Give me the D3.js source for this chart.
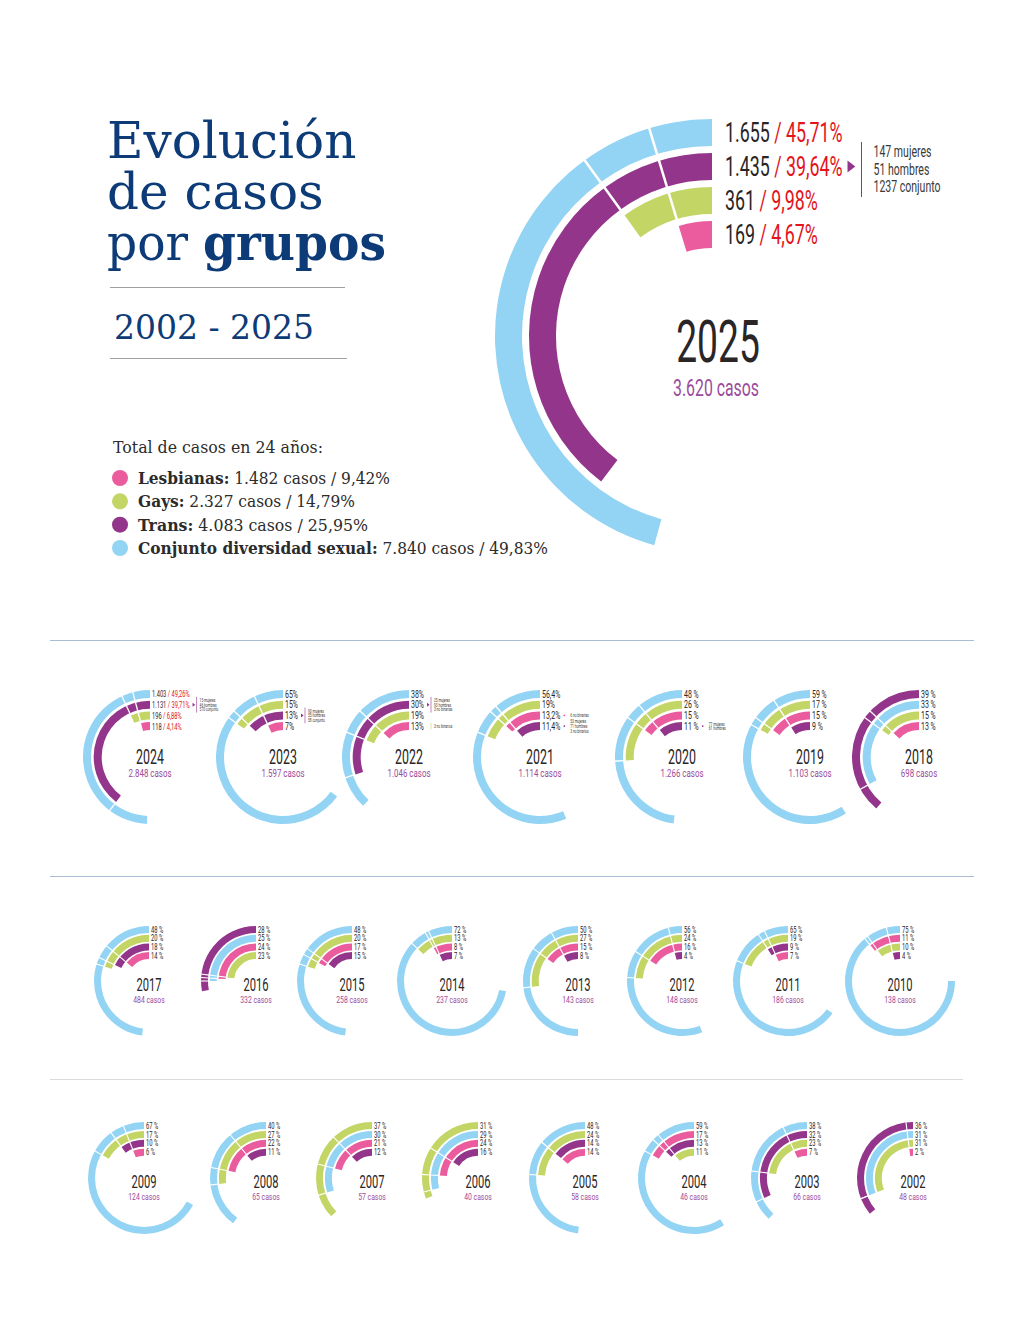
<!DOCTYPE html>
<html><head><meta charset="utf-8">
<script src="https://cdn.jsdelivr.net/npm/d3@7"></script>
<style>body{margin:0;background:#fff}</style>
</head><body><div id="chart"></div>
<script>
// ---------------- DATA ----------------
const years      = [2025,2024,2023,2022,2021,2020,2019,2018,2017,2016,2015,2014,2013,2012,2011,2010,2009,2008,2007,2006,2005,2004,2003,2002];
const totalCases = [3620,2848,1597,1046,1114,1266,1103,698,484,332,258,237,143,148,186,138,124,65,57,40,58,46,66,48];
const lesbianasPct = [4.67,4.14,7,13,13.2,15,15,13,14,24,17,8,15,16,7,11,6,22,21,24,14,17,7,2];
const gaysPct      = [9.98,6.88,15,19,19,26,17,15,20,23,20,13,27,24,19,10,17,27,37,31,24,11,23,31];
const transPct     = [39.64,39.71,13,30,11.4,11,9,39,18,28,15,7,8,4,9,4,10,11,12,16,14,13,32,36];
const conjuntoPct  = [45.71,49.26,65,38,56.4,48,59,33,48,25,48,72,50,56,65,75,67,40,30,29,48,59,38,31];
// absolute counts shown for 2025 and 2024
const lesbianasN = [169,118];
const gaysN      = [361,196];
const transN     = [1435,1131];
const conjuntoN  = [1655,1403];

const categories     = ["Lesbianas","Gays","Trans","Conjunto diversidad sexual"];
const categoryTotals = [1482,2327,4083,7840];
const categoryPct    = [9.42,14.79,25.95,49.83];

const notes = [
  {year:2025, cat:2, mark:"tri", lines:["147 mujeres","51 hombres","1237 conjunto"]},
  {year:2024, cat:2, mark:"tri", lines:["15 mujeres","46 hombres","570 conjunto"]},
  {year:2023, cat:2, mark:"tri", lines:["90 mujeres","55 hombres","58 conjunto"]},
  {year:2022, cat:2, mark:"tri", lines:["25 mujeres","93 hombres","3 no binarias"]},
  {year:2022, cat:0, mark:"bar", markCat:1, lines:["3 no binarios"]},
  {year:2021, cat:0, mark:"dot", lines:["6 no binarias"]},
  {year:2021, cat:2, mark:"dot", lines:["53 mujeres","71 hombres","3 no binarios"]},
  {year:2020, cat:2, mark:"dot", lines:["77 mujeres","61 hombres"]}
];

// ---------------- STYLE / LAYOUT ----------------
const colors = ["#ea5c9e","#c2d565","#93368b","#93d4f4"];
const RED = "#e3141b", DARK = "#2a2526", CASOS = "#9b4c9c", NAVY = "#0d3b77";
const prio = [3,2,1,0]; // tie-break: conjunto, trans, gays, lesbianas
const pctArrays = [lesbianasPct, gaysPct, transPct, conjuntoPct];
const nArrays = [lesbianasN, gaysN, transN, conjuntoN];
const locale = d3.formatLocale({decimal:",", thousands:".", grouping:[3], currency:["","€"]});
const fmtN = locale.format(",");

const rows = [
  {years:[2024,2023,2022,2021,2020,2019,2018], cx:[150,283,409,540,682,810,919], cy:757, R:67, t:8, pitch:10.7, lab:10, labSX:0.7, yr:20, yrDy:7, cs:11, csDy:19.5, sep:1.3},
  {years:[2017,2016,2015,2014,2013,2012,2011,2010], cx:[149,256,352,452,578,682,788,900], cy:981, R:55, t:7, pitch:8.7, lab:8.8, labSX:0.66, yr:18, yrDy:10, cs:9.5, csDy:21.5, sep:1.1},
  {years:[2009,2008,2007,2006,2005,2004,2003,2002], cx:[144,266,372,478,585,694,807,913], cy:1178, R:56, t:7, pitch:8.9, lab:8.8, labSX:0.66, yr:18, yrDy:10, cs:9.5, csDy:21.5, sep:1.1}
];

const W = 1024, H = 1325;
const svg = d3.select("#chart").append("svg").attr("width",W).attr("height",H)
  .style("font-family","Roboto, sans-serif");

function ctext(g, x, y, size, anchor, sx){
  return g.append("text").attr("transform",`translate(${x},${y}) scale(${sx||0.62},1)`)
    .attr("font-size",size).attr("text-anchor",anchor||"start").attr("fill",DARK);
}

function fmtLabel(yi, k){
  const y = years[yi], v = pctArrays[k][yi];
  if (y >= 2024) return {n: fmtN(nArrays[k][yi]), p: d3.format(".2f")(v).replace(".",",") + "%"};
  if (y >= 2021) return {p: String(v).replace(".",",") + "%"};
  return {p: v + " %"};
}

function drawChart(cx, cy, yi, cfg){
  const g = svg.append("g").attr("transform",`translate(${cx},${cy})`);
  const angle = d3.scaleLinear().domain([0,100]).range([0,-2*Math.PI]);
  const items = [0,1,2,3].map(k=>({k, pct:pctArrays[k][yi]}))
    .sort((a,b)=> (b.pct - a.pct) || (prio[a.k]-prio[b.k]));
  items.forEach((d,i)=>{ d.ro = cfg.R - i*cfg.pitch; d.ri = d.ro - cfg.t; d.end = angle(d.pct); d.i = i; });
  const arc = d3.arc();
  g.selectAll("path.ring").data(items).join("path").attr("class","ring")
    .attr("d", d=>arc({innerRadius:d.ri, outerRadius:d.ro, startAngle:0, endAngle:d.end}))
    .attr("fill", d=>colors[d.k]);
  // separators where inner rings end
  items.forEach((d,i)=>{
    items.slice(i+1).forEach(e=>{
      if (Math.abs(e.end) < Math.abs(d.end) - 0.03 && (!cfg.sepMax || e.pct <= cfg.sepMax)){
        const a = e.end;
        g.append("line")
          .attr("x1",(d.ri-1)*Math.sin(a)).attr("y1",-(d.ri-1)*Math.cos(a))
          .attr("x2",(d.ro+1)*Math.sin(a)).attr("y2",-(d.ro+1)*Math.cos(a))
          .attr("stroke","#fff").attr("stroke-width",cfg.sep);
      }
    });
  });
  // labels
  const labX = cfg.labX;
  const big = cfg.big;
  const isCount = years[yi] >= 2024;
  const lsize = (!big && isCount) ? 9.5 : cfg.lab;
  const lsx = (!big && isCount) ? 0.6 : cfg.labSX;
  items.forEach(d=>{
    const mid = -(d.ro - cfg.t/2);
    const L = fmtLabel(yi, d.k);
    const t = ctext(g, labX, mid + lsize*0.36, lsize, "start", lsx);
    if (L.n){ t.append("tspan").text(L.n + " "); t.append("tspan").attr("fill",RED).text("/ " + L.p); }
    else t.text(L.p);
    d.labEnd = labX + t.node().getComputedTextLength()*lsx;
    d.mid = mid;
  });
  // notes
  notes.filter(n=>n.year===years[yi]).forEach(n=>{
    const d = items.find(e=>e.k===n.cat);
    const ns = big ? 17 : 5.2, lh = big ? 17.5 : 4.6;
    const mx = d.labEnd + (big ? 5 : 3);
    const mcol = colors[n.markCat!==undefined ? n.markCat : n.cat];
    if (n.mark==="tri"){
      const s = big ? 6 : 2;
      g.append("path").attr("d",`M${mx},${d.mid-s}L${mx+s*1.3},${d.mid}L${mx},${d.mid+s}Z`).attr("fill",mcol);
    } else if (n.mark==="dot"){
      g.append("circle").attr("cx",mx+1).attr("cy",d.mid).attr("r",big?3:0.9).attr("fill",mcol);
    }
    const lx = mx + (big ? 14 : 4);
    const nl = n.lines.length;
    if (n.mark!=="dot" && (nl>1 || n.mark==="bar")){
      const h = big ? 55 : Math.max(nl*lh+2, 5);
      g.append("line").attr("x1",lx).attr("x2",lx)
        .attr("y1",d.mid - h/2 + (big?3:0)).attr("y2",d.mid + h/2 + (big?3:0))
        .attr("stroke", n.mark==="bar" ? mcol : colors[2]).attr("stroke-width", big?1:0.6);
    }
    n.lines.forEach((s,i)=>{
      ctext(g, lx + (big ? 12 : 3), d.mid + (i-(nl-1)/2)*lh + ns*0.36 + (big?2:0), ns).attr("fill","#3a3a3a").text(s);
    });
  });
  // year and cases
  ctext(g, cfg.yrX||0, cfg.yrDy, cfg.yr, "middle").text(years[yi]);
  ctext(g, cfg.csX||0, cfg.csDy, cfg.cs, "middle", cfg.csSX||0.72).attr("fill",CASOS).text(fmtN(totalCases[yi]) + " casos");
}

// ---------------- TITLE ----------------
const serif = "'DejaVu Serif', serif";
const tg = svg.append("g").attr("font-family",serif).attr("fill",NAVY);
tg.append("text").attr("x",107).attr("y",158).attr("font-size",50).text("Evolución");
tg.append("text").attr("x",107).attr("y",209).attr("font-size",50).text("de casos");
const t3 = tg.append("text").attr("x",107).attr("y",260).attr("font-size",50)
  .attr("textLength",279).attr("lengthAdjust","spacingAndGlyphs");
t3.append("tspan").text("por ");
t3.append("tspan").attr("font-weight","bold").text("grupos");
tg.append("line").attr("x1",110).attr("x2",345).attr("y1",287.5).attr("y2",287.5).attr("stroke","#a0a0a0");
tg.append("text").attr("x",114).attr("y",339).attr("font-size",33).text("2002 - 2025");
tg.append("line").attr("x1",110).attr("x2",347).attr("y1",358.5).attr("y2",358.5).attr("stroke","#a0a0a0");

// ---------------- LEGEND ----------------
const lg = svg.append("g").attr("font-family",serif).attr("fill","#2b2b2b");
lg.append("text").attr("x",113).attr("y",453).attr("font-size",16)
  .attr("textLength",210).attr("lengthAdjust","spacingAndGlyphs").text("Total de casos en 24 años:");
const legY = d3.scalePoint().domain(categories).range([478,548]);
const legLen = [252,217,230,410];
categories.forEach((c,k)=>{
  lg.append("circle").attr("cx",120).attr("cy",legY(c)).attr("r",8).attr("fill",colors[k]);
  const t = lg.append("text").attr("x",138).attr("y",legY(c)+6).attr("font-size",16)
    .attr("textLength",legLen[k]).attr("lengthAdjust","spacingAndGlyphs");
  t.append("tspan").attr("font-weight","bold").text(c + ":");
  t.append("tspan").text(" " + fmtN(categoryTotals[k]) + " casos / " + String(categoryPct[k]).replace(".",",") + "%");
});

// ---------------- MAIN 2025 ----------------
drawChart(712, 336, 0, {R:217, t:27, pitch:34, lab:27, labSX:0.66, labX:13, yr:60, yrDy:26, yrX:6, cs:24, csSX:0.66, csDy:60, csX:4, sep:2.5, big:true, sepMax:20});

// ---------------- SEPARATOR LINES ----------------
svg.append("line").attr("x1",50).attr("x2",974).attr("y1",640.5).attr("y2",640.5).attr("stroke","#a8bdd3");
svg.append("line").attr("x1",50).attr("x2",974).attr("y1",876.5).attr("y2",876.5).attr("stroke","#a8bdd3");
svg.append("line").attr("x1",50).attr("x2",963).attr("y1",1079.5).attr("y2",1079.5).attr("stroke","#dadada");

// ---------------- SMALL CHARTS ----------------
rows.forEach(r=>{
  r.years.forEach((y,j)=>{
    const yi = years.indexOf(y);
    drawChart(r.cx[j], r.cy, yi, {R:r.R, t:r.t, pitch:r.pitch, lab:r.lab, labSX:r.labSX, labX:2, yr:r.yr, yrDy:r.yrDy, cs:r.cs, csDy:r.csDy, sep:r.sep});
  });
});
</script></body></html>
